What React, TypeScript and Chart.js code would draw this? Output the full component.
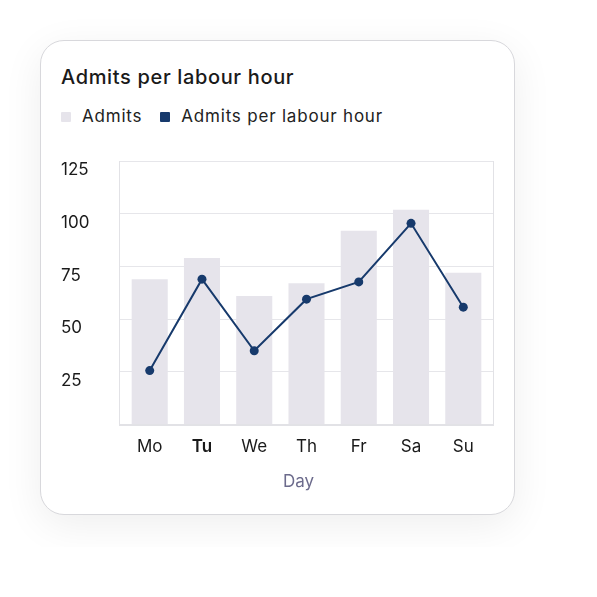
import React, { useEffect, useRef } from "react";
import { Chart, registerables } from "chart.js";

Chart.register(...registerables);

const days = ["Mo", "Tu", "We", "Th", "Fr", "Sa", "Su"];
const admits = [69, 79, 61, 67, 92, 102, 72];
const admitsPerLabourHour = [25.6, 69, 35, 59.5, 67.7, 95.5, 55.7];
const yTicks = [0, 25, 50, 75, 100, 125];
const xAxisTitle = "Day";

const FONT = "Inter, 'Noto Sans', sans-serif";
const BAR_COLOR = "#e6e4eb";
const LINE_COLOR = "#173a6c";

export default function App() {
  const ref = useRef<HTMLCanvasElement | null>(null);

  useEffect(() => {
    if (!ref.current) return;
    const chart = new Chart(ref.current, {
      type: "bar",
      data: {
        labels: days,
        datasets: [
          {
            type: "line",
            label: "Admits per labour hour",
            data: admitsPerLabourHour,
            borderColor: LINE_COLOR,
            backgroundColor: LINE_COLOR,
            borderWidth: 2,
            pointRadius: 4.5,
            pointHoverRadius: 4.5,
            pointBackgroundColor: LINE_COLOR,
            pointBorderWidth: 0,
            tension: 0,
            order: 0,
          },
          {
            type: "bar",
            label: "Admits",
            data: admits,
            backgroundColor: BAR_COLOR,
            borderWidth: 0,
            categoryPercentage: 0.69,
            barPercentage: 1,
            order: 1,
          },
        ],
      },
      options: {
        animation: false,
        responsive: false,
        maintainAspectRatio: false,
        layout: { padding: { left: 0, right: 1, top: 0, bottom: 25.5 } },
        plugins: {
          title: { display: false },
          legend: { display: false },
          tooltip: { enabled: false },
        },
        scales: {
          x: {
            afterBuildTicks: (scale: any) => {
              const d = 0.078;
              scale._startValue = -0.5 - d;
              scale._valueRange = days.length + 2 * d;
            },
            grid: { display: false, drawTicks: false },
            border: { display: true, color: "#e2e2e6", width: 2 },
            ticks: {
              color: "#1a1a1a",
              padding: 12.3,
              font: (ctx: any) => ({
                family: FONT,
                size: 17,
                weight: ctx.index === 1 ? "600" : "400",
              }),
            },
          },
          y: {
            min: yTicks[0],
            max: yTicks[yTicks.length - 1],
            afterBuildTicks: (scale: any) => {
              scale.ticks = yTicks.map((v) => ({ value: v }));
            },
            afterFit: (scale: any) => {
              scale.width = 58.5;
            },
            grid: { color: "#e6e6ea", lineWidth: 1, drawTicks: false },
            border: { display: true, color: "#e2e2e6", width: 1 },
            ticks: {
              color: "#1a1a1a",
              crossAlign: "far",
              padding: 10,
              labelOffset: 9,
              font: { family: FONT, size: 17 },
              callback: (v: any) => (v === 0 ? "" : String(v)),
            },
          },
          yRight: {
            position: "right",
            min: yTicks[0],
            max: yTicks[yTicks.length - 1],
            grid: { display: false, drawTicks: false },
            border: { display: true, color: "#e2e2e6", width: 1 },
            ticks: { display: false },
          },
        },
      },
    } as any);
    return () => chart.destroy();
  }, []);

  const legendItem = (color: string, text: string, gapAfter: number) => (
    <span style={{ display: "inline-flex", alignItems: "center", marginRight: gapAfter }}>
      <span
        style={{
          display: "inline-block",
          width: 10,
          height: 10,
          borderRadius: 1,
          background: color,
          marginRight: 11,
          position: "relative",
          top: 1,
        }}
      />
      <span>{text}</span>
    </span>
  );

  return (
    <div style={{ padding: 32 }}>
      <div
        style={{
          width: 475,
          height: 475,
          boxSizing: "border-box",
          border: "1px solid #d8d8dc",
          borderRadius: 24,
          background: "#fff",
          boxShadow: "0 10px 40px rgba(0,0,0,0.07)",
          padding: "20px 0 0 20px",
          fontFamily: FONT,
          position: "relative",
        }}
      >
        <div
          style={{
            marginTop: 4,
            fontSize: 20,
            lineHeight: "24px",
            fontWeight: 500,
            color: "#1a1a1a",
            letterSpacing: 0.65,
            whiteSpace: "nowrap",
          }}
        >
          Admits per labour hour
        </div>
        <div
          style={{
            marginTop: 17,
            fontSize: 17,
            lineHeight: "20px",
            color: "#222",
            letterSpacing: 0.8,
            whiteSpace: "nowrap",
            display: "flex",
          }}
        >
          {legendItem(BAR_COLOR, "Admits", 18)}
          {legendItem(LINE_COLOR, "Admits per labour hour", 0)}
        </div>
        <canvas
          ref={ref}
          width={437}
          height={354}
          style={{ display: "block", width: 437, height: 354, marginTop: 15 }}
        />
        <div
          style={{
            position: "absolute",
            left: 227.5,
            top: 430,
            width: 60,
            textAlign: "center",
            fontSize: 17,
            lineHeight: "20px",
            color: "#6c6b8c",
          }}
        >
          {xAxisTitle}
        </div>
      </div>
    </div>
  );
}
